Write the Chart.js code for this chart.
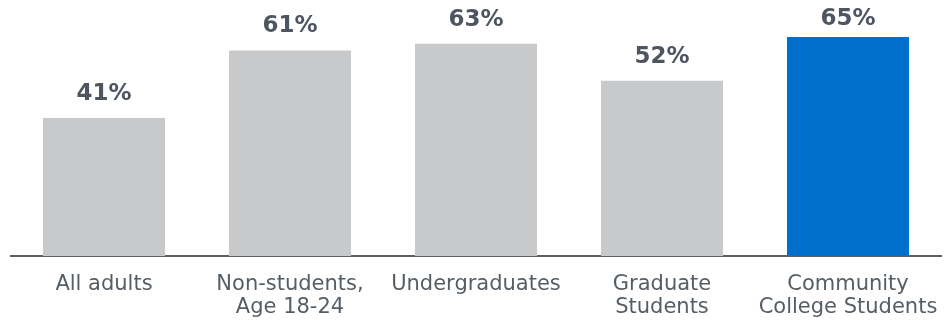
<!DOCTYPE html>
<html>
<head>
<meta charset="utf-8">
<script src="https://cdn.jsdelivr.net/npm/chart.js@4/dist/chart.umd.min.js"></script>
<style>
  html, body { margin: 0; padding: 0; background: #fff; }
  #wrap { width: 947px; height: 322px; }
</style>
</head>
<body>
<div id="wrap"><canvas id="chart"></canvas></div>
<script>
var categories = [['All adults'], ['Non-students,', 'Age 18-24'], ['Undergraduates'], ['Graduate', 'Students'], ['Community', 'College Students']];
var values = [41, 61, 63, 52, 65];
var barColors = ['#c8c9cb', '#c8c9cb', '#c8c9cb', '#c8c9cb', '#0070cc'];
var fontFamily = 'Verdana, "DejaVu Sans", sans-serif';

// draws the bold percentage above each bar (kept inside the top edge)
var valueLabels = {
    id: 'valueLabels',
    afterDatasetsDraw: function(chart) {
        var ctx = chart.ctx;
        var meta = chart.getDatasetMeta(0);
        ctx.save();
        ctx.font = 'bold 23px ' + fontFamily;
        ctx.fillStyle = '#4d5560';
        ctx.textAlign = 'center';
        ctx.textBaseline = 'middle';
        meta.data.forEach(function(bar, i) {
            ctx.fillText(values[i] + '%', bar.x, Math.max(bar.y - 24, 19.5));
        });
        ctx.restore();
    }
};

new Chart(document.getElementById('chart').getContext('2d'), {
    type: 'bar',
    data: {
        labels: categories,
        datasets: [{
            data: values,
            backgroundColor: barColors,
            borderWidth: 0,
            categoryPercentage: 1,
            barPercentage: 0.656
        }]
    },
    options: {
        responsive: true,
        maintainAspectRatio: false,
        animation: false,
        layout: { padding: { left: 11, right: 6, top: 0, bottom: 0 } },
        plugins: { legend: { display: false }, tooltip: { enabled: false } },
        scales: {
            x: {
                grid: { display: false, drawTicks: false },
                border: { display: true, color: '#5a6068', width: 2 },
                ticks: {
                    color: '#555e66',
                    font: { family: fontFamily, size: 21, lineHeight: '23px' },
                    padding: 17,
                    maxRotation: 0,
                    autoSkip: false
                },
                afterFit: function(scale) {
                    scale.height = 66;
                    scale.paddingLeft = 0;
                    scale.paddingRight = 0;
                }
            },
            y: {
                display: false,
                min: 0,
                max: 76
            }
        }
    },
    plugins: [valueLabels]
});
</script>
</body>
</html>
